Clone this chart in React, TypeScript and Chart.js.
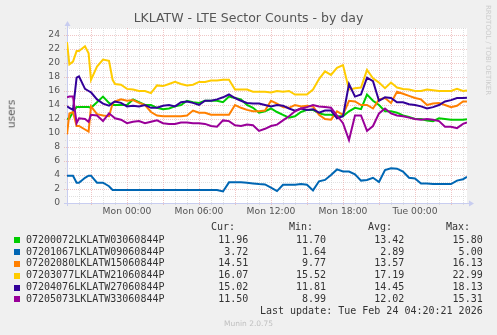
import React, { useEffect, useRef } from 'react';
import { Chart, registerables } from 'chart.js';

Chart.register(...registerables);

// Hours relative to Mon 00:00 (graph spans Sun 19:00 .. Tue 04:20)
const hours = [
  -5, -4.8, -4.5, -4.2, -4, -3.5, -3.2, -3, -2.5, -2, -1.5, -1.2, -1, -0.5,
  0, 0.5, 1, 1.5, 2, 2.5, 3, 3.5, 4, 4.5,
  5, 5.5, 6, 6.5, 7, 7.5, 8, 8.5, 9, 9.5,
  10, 10.5, 11, 11.5, 12, 12.5, 13, 13.5, 14, 14.5,
  15, 15.5, 16, 16.5, 17, 17.5, 18, 18.5, 19, 19.5,
  20, 20.5, 21, 21.5, 22, 22.5, 23, 23.5, 24, 24.5,
  25, 25.5, 26, 26.5, 27, 27.5, 28, 28.33,
];

const sector03 = [
  12.0, 12.1, 13.0, 13.7, 13.7, 13.7, 13.7, 13.6, 14.4, 15.2, 14.3, 14.0, 14.0, 14.0,
  14.0, 14.8, 14.4, 14.0, 14.0, 13.6, 13.4, 13.5, 13.8, 14.0,
  14.6, 14.4, 14.3, 14.6, 14.6, 14.6, 14.4, 15.2, 15.0, 14.8,
  14.0, 13.6, 12.9, 13.1, 13.5, 13.0, 12.6, 12.2, 12.4, 13.0,
  13.3, 13.3, 12.8, 12.6, 12.6, 12.4, 12.4, 13.1, 13.6, 13.4,
  15.5, 14.6, 14.0, 13.1, 13.1, 12.9, 12.5, 12.3, 12.0, 12.0,
  11.8, 11.7, 12.1, 12.0, 11.9, 11.9, 11.9, 11.96,
];
const sector09 = [
  3.9, 3.9, 3.9, 2.9, 2.9, 3.6, 3.9, 3.9, 2.9, 2.9, 2.4, 1.86, 1.86, 1.86,
  1.86, 1.86, 1.86, 1.86, 1.86, 1.86, 1.86, 1.86, 1.86, 1.86,
  1.86, 1.86, 1.86, 1.86, 1.86, 1.86, 1.65, 2.95, 2.95, 2.95,
  2.9, 2.8, 2.7, 2.65, 2.2, 1.7, 2.6, 2.6, 2.6, 2.7,
  2.6, 1.8, 3.1, 3.3, 4.0, 4.8, 4.5, 4.5, 4.1, 3.2,
  3.3, 3.6, 3.0, 4.7, 4.95, 4.9, 4.5, 3.6, 3.5, 2.8,
  2.8, 2.7, 2.7, 2.7, 2.7, 3.2, 3.4, 3.72,
];
const sector15 = [
  9.8, 12.8, 13.0, 11.0, 11.0, 10.5, 10.2, 13.8, 12.7, 12.5, 12.4, 14.2, 14.5, 14.8,
  14.6, 14.7, 14.3, 14.0, 13.0, 12.5, 12.4, 12.4, 12.4, 12.4,
  12.5, 13.2, 12.9, 12.9, 12.6, 12.6, 12.6, 12.6, 14.0, 13.6,
  13.3, 13.1, 13.1, 13.2, 14.6, 14.2, 13.7, 13.6, 14.0, 13.8,
  13.9, 13.8, 12.6, 12.0, 11.9, 13.1, 12.6, 14.6, 14.5, 14.0,
  14.0, 13.5, 14.8, 15.0, 14.3, 15.9, 15.6, 15.3, 15.0, 14.8,
  14.0, 14.2, 14.3, 14.0, 13.7, 13.9, 14.5, 14.51,
];
const sector21 = [
  23.0, 19.8, 20.2, 21.7, 21.7, 22.4, 21.4, 17.6, 19.5, 20.5, 20.3, 17.6, 17.0, 16.9,
  16.3, 16.2, 16.0, 16.0, 15.7, 16.8, 16.7, 17.0, 17.3, 17.0,
  16.8, 16.9, 17.3, 17.3, 17.5, 17.5, 17.6, 17.6, 16.2, 16.2,
  16.2, 15.9, 15.9, 15.9, 15.8, 16.0, 15.9, 16.0, 15.5, 15.5,
  15.5, 16.2, 17.7, 18.8, 18.3, 19.3, 19.7, 16.2, 16.4, 16.5,
  19.0, 17.8, 17.2, 16.4, 17.2, 16.5, 16.3, 16.2, 16.0, 16.0,
  16.2, 16.1, 16.0, 16.0, 16.0, 16.3, 16.0, 16.07,
];
const sector27 = [
  13.8, 13.6, 13.3, 17.9, 18.1, 16.3, 16.0, 15.8, 14.8, 14.2, 13.9, 14.3, 14.5, 14.3,
  13.8, 13.9, 13.8, 14.0, 13.6, 13.6, 13.9, 14.0, 13.8, 14.4,
  14.5, 14.3, 14.0, 14.6, 14.6, 14.8, 15.1, 15.5, 15.0, 14.6,
  14.3, 14.2, 14.2, 14.0, 13.8, 14.0, 13.9, 13.5, 13.2, 13.5,
  13.3, 13.4, 12.9, 13.2, 13.2, 12.1, 12.4, 17.0, 15.2, 15.5,
  17.9, 17.4, 14.6, 15.1, 15.0, 14.4, 14.4, 14.1, 14.0, 13.8,
  13.5, 13.7, 14.0, 14.5, 14.7, 15.0, 15.0, 15.02,
];
const sector33 = [
  15.1, 15.2, 15.2, 11.4, 12.1, 12.0, 11.6, 12.6, 12.5, 11.7, 12.8, 12.4, 12.1, 11.9,
  11.4, 11.6, 11.7, 11.4, 11.6, 11.8, 11.4, 11.3, 11.3, 11.5,
  11.5, 11.4, 11.4, 11.3, 11.0, 10.9, 11.8, 11.7, 11.1, 11.0,
  11.2, 11.1, 10.3, 10.6, 11.0, 11.2, 11.8, 12.4, 13.1, 13.5,
  13.7, 14.0, 13.8, 13.7, 13.6, 12.5, 11.4, 9.0, 12.5, 12.5,
  10.3, 11.0, 12.8, 13.5, 12.8, 12.5, 12.4, 12.2, 12.0, 11.9,
  12.0, 11.9, 11.7, 10.9, 10.9, 10.7, 11.3, 11.5,
];

const seriesNames = [
  '07200072LKLATW03060844P',
  '07201067LKLATW09060844P',
  '07202080LKLATW15060844P',
  '07203077LKLATW21060844P',
  '07204076LKLATW27060844P',
  '07205073LKLATW33060844P',
];
const seriesValues = [sector03, sector09, sector15, sector21, sector27, sector33];
const seriesColors = ['#00CC00', '#0066B3', '#FF8000', '#FFCC00', '#330099', '#990099'];

const curVals = ['11.96', '3.72', '14.51', '16.07', '15.02', '11.50'];
const minVals = ['11.70', '1.64', '9.77', '15.52', '11.81', '8.99'];
const avgVals = ['13.42', '2.89', '13.57', '17.19', '14.45', '12.02'];
const maxVals = ['15.80', '5.00', '16.13', '22.99', '18.13', '15.31'];

const yTicks = [0, 2, 4, 6, 8, 10, 12, 14, 16, 18, 20, 22, 24];
const xTickHours = [0, 6, 12, 18, 24];
const xTickLabels = ['Mon 00:00', 'Mon 06:00', 'Mon 12:00', 'Mon 18:00', 'Tue 00:00'];

const X_MIN = -5;
const X_MAX = 28.333;
const Y_MAX = 25;

const MINOR = 'rgba(205,205,205,0.6)';
const MAJOR = 'rgba(230,160,160,0.6)';
const AXIS = '#c8cdf0';

const gridPlugin = {
  id: 'rrdGrid',
  beforeDatasetsDraw(chart: any) {
    const { ctx, chartArea: a, scales } = chart;
    const x = scales.x;
    const y = scales.y;
    ctx.save();
    ctx.fillStyle = '#ffffff';
    ctx.fillRect(a.left, a.top, a.right - a.left, a.bottom - a.top);
    ctx.lineWidth = 1;
    ctx.setLineDash([1, 1]);
    for (const pass of [0, 1]) {
      for (let h = Math.ceil(X_MIN); h <= X_MAX; h++) {
        const isMajor = h % 3 === 0;
        if ((pass === 1) !== isMajor) continue;
        const px = Math.round(x.getPixelForValue(h)) + 0.5;
        ctx.strokeStyle = isMajor ? MAJOR : MINOR;
        ctx.beginPath();
        ctx.moveTo(px, a.top);
        ctx.lineTo(px, a.bottom + (isMajor ? 3 : 2));
        ctx.stroke();
      }
      for (let v = 1; v <= Y_MAX; v++) {
        const isMajor = v % 2 === 0;
        if ((pass === 1) !== isMajor) continue;
        const py = Math.round(y.getPixelForValue(v)) + 0.5;
        ctx.strokeStyle = isMajor ? MAJOR : MINOR;
        ctx.beginPath();
        ctx.moveTo(a.left - (isMajor ? 3 : 2), py);
        ctx.lineTo(a.right, py);
        ctx.stroke();
      }
    }
    ctx.setLineDash([]);
    ctx.strokeStyle = AXIS;
    ctx.fillStyle = AXIS;
    const bx = Math.round(a.left) + 0.5;
    const by = Math.round(a.bottom) + 0.5;
    ctx.beginPath();
    ctx.moveTo(a.left - 3, by);
    ctx.lineTo(a.right + 2, by);
    ctx.moveTo(bx, a.bottom + 3);
    ctx.lineTo(bx, a.top - 2);
    ctx.stroke();
    ctx.beginPath();
    ctx.moveTo(a.right + 7, by);
    ctx.lineTo(a.right + 2, by - 3);
    ctx.lineTo(a.right + 2, by + 3);
    ctx.closePath();
    ctx.fill();
    ctx.beginPath();
    ctx.moveTo(bx, a.top - 7);
    ctx.lineTo(bx - 3, a.top - 2);
    ctx.lineTo(bx + 3, a.top - 2);
    ctx.closePath();
    ctx.fill();
    ctx.restore();
  },
};

const tickFont = { family: 'DejaVu Sans', size: 9.2 };

export default function App() {
  const canvasRef = useRef<HTMLCanvasElement | null>(null);

  useEffect(() => {
    const canvas = canvasRef.current;
    if (!canvas) return;
    const datasets = seriesValues.map((vals, i) => ({
      label: seriesNames[i],
      data: hours.map((h, k) => ({ x: h, y: vals[k] })),
      borderColor: seriesColors[i],
      backgroundColor: seriesColors[i],
      borderWidth: 2,
      pointRadius: 0,
      tension: 0,
      fill: false,
      order: seriesValues.length - 1 - i,
    }));
    const chart = new Chart(canvas, {
      type: 'line',
      data: { datasets },
      plugins: [gridPlugin],
      options: {
        animation: false,
        responsive: false,
        maintainAspectRatio: false,
        events: [],
        layout: { padding: { top: 28, right: 30, left: 0, bottom: 0 } },
        plugins: {
          legend: { display: false },
          tooltip: { enabled: false },
          title: { display: false },
        },
        scales: {
          x: {
            type: 'linear',
            min: X_MIN,
            max: X_MAX,
            grid: { display: false, drawTicks: false },
            border: { display: false },
            afterBuildTicks: (s: any) => {
              s.ticks = xTickHours.map((v) => ({ value: v }));
            },
            afterFit: (s: any) => {
              s.height = 132;
            },
            ticks: {
              autoSkip: false,
              maxRotation: 0,
              padding: 3,
              color: '#555555',
              font: tickFont,
              callback: (_v: any, idx: number) => xTickLabels[idx],
            },
          },
          y: {
            type: 'linear',
            min: 0,
            max: Y_MAX,
            grid: { display: false, drawTicks: false },
            border: { display: false },
            afterBuildTicks: (s: any) => {
              s.ticks = yTicks.map((v) => ({ value: v }));
            },
            afterFit: (s: any) => {
              s.width = 67;
            },
            ticks: {
              padding: 7,
              color: '#555555',
              font: tickFont,
              callback: (v: any) => String(v),
            },
          },
        },
      } as any,
    });
    return () => chart.destroy();
  }, []);

  const mono = '"DejaVu Sans Mono", monospace';
  const rowTop = (i: number) => 234.8 + i * 11.8;
  const textColor = '#333333';

  return (
    <div
      style={{
        position: 'absolute',
        left: 0,
        top: 0,
        width: 497,
        height: 335,
        background: '#f0f0f0',
        overflow: 'hidden',
        fontFamily: '"DejaVu Sans", sans-serif',
      }}
    >
      <canvas
        ref={canvasRef}
        width={497}
        height={335}
        style={{ position: 'absolute', left: 0, top: 0, width: 497, height: 335 }}
      />
      <div
        style={{
          position: 'absolute',
          left: 0,
          width: 497,
          top: 11.9,
          textAlign: 'center',
          fontSize: 12.5,
          lineHeight: '12.5px',
          color: '#555555',
          whiteSpace: 'pre',
        }}
      >
        LKLATW - LTE Sector Counts - by day
      </div>
      <div
        style={{
          position: 'absolute',
          left: 10.5,
          top: 114,
          transform: 'translate(-50%, -50%) rotate(-90deg)',
          fontSize: 10.5,
          lineHeight: '10.5px',
          color: '#555555',
          whiteSpace: 'pre',
        }}
      >
        users
      </div>
      <div
        style={{
          position: 'absolute',
          left: 484,
          top: 5,
          writingMode: 'vertical-rl',
          fontSize: 7,
          lineHeight: '7px',
          color: '#cccccc',
          whiteSpace: 'pre',
        }}
      >
        RRDTOOL / TOBI OETIKER
      </div>
      {['Cur:', 'Min:', 'Avg:', 'Max:'].map((h, j) => (
        <div
          key={h}
          style={{
            position: 'absolute',
            right: 497 - [235, 313, 392, 470][j],
            top: 222.2,
            fontFamily: mono,
            fontSize: 10,
            lineHeight: '10px',
            color: textColor,
            whiteSpace: 'pre',
          }}
        >
          {h}
        </div>
      ))}
      {seriesNames.map((name, i) => (
        <React.Fragment key={name}>
          <div
            style={{
              position: 'absolute',
              left: 14,
              top: rowTop(i) + 2.5,
              width: 6,
              height: 6,
              background: seriesColors[i],
            }}
          />
          <div
            style={{
              position: 'absolute',
              left: 26,
              top: rowTop(i),
              fontFamily: mono,
              fontSize: 10,
              lineHeight: '10px',
              color: textColor,
              whiteSpace: 'pre',
            }}
          >
            {name}
          </div>
          {[curVals, minVals, avgVals, maxVals].map((col, j) => (
            <div
              key={j}
              style={{
                position: 'absolute',
                right: 497 - [248.3, 326, 404.3, 482.7][j],
                top: rowTop(i),
                fontFamily: mono,
                fontSize: 10,
                lineHeight: '10px',
                color: textColor,
                whiteSpace: 'pre',
                textAlign: 'right',
              }}
            >
              {col[i]}
            </div>
          ))}
        </React.Fragment>
      ))}
      <div
        style={{
          position: 'absolute',
          right: 497 - 482.7,
          top: 305.8,
          fontFamily: mono,
          fontSize: 10,
          lineHeight: '10px',
          color: textColor,
          whiteSpace: 'pre',
        }}
      >
        Last update: Tue Feb 24 04:20:21 2026
      </div>
      <div
        style={{
          position: 'absolute',
          left: 0,
          width: 497,
          top: 320.4,
          textAlign: 'center',
          fontSize: 7.5,
          lineHeight: '7.5px',
          color: '#c0c0c0',
          whiteSpace: 'pre',
        }}
      >
        Munin 2.0.75
      </div>
    </div>
  );
}
